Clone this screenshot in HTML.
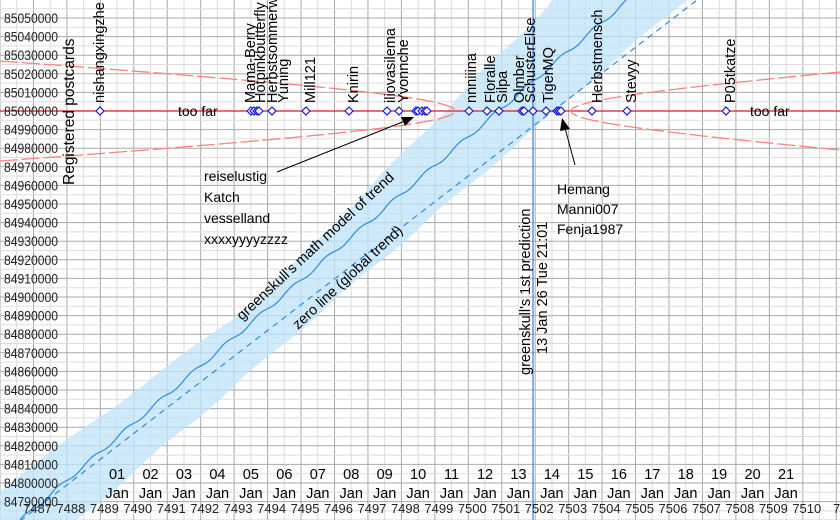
<!DOCTYPE html>
<html><head><meta charset="utf-8"><style>
body{margin:0;background:#fff}
svg{display:block;font-family:"Liberation Sans",sans-serif}
</style></head><body>
<svg id="s" width="840" height="520" viewBox="0 0 840 520" xmlns="http://www.w3.org/2000/svg">
<g id="grid"></g>
<path id="band" fill="#bfe3fa" opacity="0.75"/>
<path id="dash" fill="none" stroke="#2f8be0" stroke-width="1.2" stroke-dasharray="6,5"/>
<path id="sol" fill="none" stroke="#2f8be0" stroke-width="1.2"/>
<line x1="533" y1="0" x2="533" y2="520" stroke="#3a7fe0" stroke-width="1.2"/>
<line x1="0" y1="111" x2="840" y2="111" stroke="#cc2222" stroke-width="1.2"/>
<path id="hyp" fill="none" stroke="#ff8080" stroke-width="1.3" stroke-dasharray="18,4"/>
<g id="txt" font-size="13" fill="#222"></g>
<g id="pts" fill="#fff" stroke="#1515e0" stroke-width="1.2"></g>
<g font-size="14">
<text x="178" y="116">too far</text>
<text x="750" y="116">too far</text>
<text x="204" y="181">reiselustig</text>
<text x="204" y="202">Katch</text>
<text x="204" y="223">vesselland</text>
<text x="204" y="244">xxxxyyyyzzzz</text>
<text x="557" y="194">Hemang</text>
<text x="557" y="214">Manni007</text>
<text x="557" y="234">Fenja1987</text>
<text transform="translate(74,185) rotate(-90)" font-size="15.5">Registered postcards</text>
<text transform="translate(530,375) rotate(-90)" font-size="14.5">greenskull's 1st prediction</text>
<text transform="translate(547,354) rotate(-90)" font-size="14.5">13 Jan 26 Tue 21:01</text>
<text transform="translate(242,321) rotate(-43)" font-size="14.5">greenskull's math model of trend</text>
<text transform="translate(298,330) rotate(-43)" font-size="14.5">zero line (global trend)</text>
</g>
<line x1="277" y1="172" x2="405" y2="121" stroke="#000" stroke-width="1"/>
<polygon points="414,117 401,117 405,126" fill="#000"/>
<line x1="575" y1="165" x2="565" y2="128" stroke="#000" stroke-width="1"/>
<polygon points="562,118 560,131 570,129" fill="#000"/>
</svg>
<script>
var ns="http://www.w3.org/2000/svg";
function el(p,t,a,tx){var e=document.createElementNS(ns,t);for(var k in a)e.setAttribute(k,a[k]);if(tx!=null)e.textContent=tx;document.getElementById(p).appendChild(e);return e;}
var dx=33.45;
for(var k=0;k<=26;k++){
 var x=k*dx; el("grid","line",{x1:x,y1:0,x2:x,y2:520,stroke:"#aaa","stroke-width":1});
 el("grid","line",{x1:x+dx/2,y1:0,x2:x+dx/2,y2:520,stroke:"#ddd","stroke-width":1});
}
var yz=111,dy=18.6;
for(var j=-6;j<=22;j++){
 var y=yz+j*dy; el("grid","line",{x1:0,y1:y,x2:840,y2:y,stroke:"#aaa","stroke-width":1});
 el("grid","line",{x1:0,y1:y+dy/2,x2:840,y2:y+dy/2,stroke:"#ddd","stroke-width":1});
 if(j>=-5&&j<=21) el("txt","text",{x:4,y:y+5,"font-size":13.5,textLength:54,lengthAdjust:"spacingAndGlyphs"},String(85000000-j*10000));
}
for(var k=1;k<=25;k++){
 var v=7486+k; el("txt","text",{x:k*dx+4,y:513,"text-anchor":"middle","font-size":13},k==25?"75":String(v));
}
for(var n=1;n<=21;n++){
 var cx=dx*(n+2.5);
 el("txt","text",{x:cx,y:479,"text-anchor":"middle","font-size":14.5,fill:"#000"},(n<10?"0":"")+n);
 el("txt","text",{x:cx,y:498,"text-anchor":"middle","font-size":14.5,fill:"#000"},"Jan");
}
function ysol(x){return 465-(x-85)*0.856;}
var d="";
for(var x=20;x<=660;x+=2){var y=ysol(x)+2*Math.sin(x/dx*2*Math.PI);d+=(x>20?"L":"M")+x+","+y.toFixed(1);}
document.getElementById("sol").setAttribute("d",d);
document.getElementById("dash").setAttribute("d","M20,521L697,0");
var up="";
for(var y=530;y>=-10;y-=10){var xs=85+(465-y)/0.856;var uo=19+0.19*Math.abs(y-296);var w=2*Math.sin(y/15);
 up+=(up?"L":"M")+(xs-uo+w).toFixed(1)+","+y;}
var lw=[];for(var y=-10;y<=530;y+=10){var xs=85+(465-y)/0.856;lw.push("L"+(xs+57+2*Math.cos(y/13)).toFixed(1)+","+y);}
document.getElementById("band").setAttribute("d",up+lw.join("")+"Z");
var yc=111,L="",R1="";
for(var i=-30;i<=30;i++){var u=i/30*1.3;var x=455-455*(Math.cosh(u)-1)/(Math.cosh(1.3)-1);var y=yc+50*Math.sinh(u)/Math.sinh(1.3);L+=(i==-30?"M":"L")+x.toFixed(1)+","+y.toFixed(1);}
for(var i=-30;i<=30;i++){var u=i/30*1.3;var x=571+269*(Math.cosh(u)-1)/(Math.cosh(1.3)-1);var y=yc+39*Math.sinh(u)/Math.sinh(1.3);R1+=(i==-30?"M":"L")+x.toFixed(1)+","+y.toFixed(1);}
document.getElementById("hyp").setAttribute("d",L+R1);
var P=[100,251,254,257,259,272,306,349,387,399,416,418,422,425,427,469,487,499,522,524,533,546,557,559,561,592,627,726];
P.forEach(function(x){el("pts","polygon",{points:(x-4)+",111 "+x+",107 "+(x+4)+",111 "+x+",115"});});
var N=[[100,"nishangxingzhe"],[251,"Mama-Berry"],[261,"Hotpinkbutterfly"],[273,"Herbstsommerwind"],[284,"Yuning"],[311,"Mill121"],[354,"Knirin"],[391,"iliovasilema"],[404,"Yvonnche"],[472,"nnniiina"],[491,"Floralle"],[503,"Silpa"],[520,"Olmber"],[531,"SchusterElse"],[549,"TigerMQ"],[598,"Herbstmensch"],[632,"Stevyy"],[731,"P05tkatze"]];
N.forEach(function(n){el("txt","text",{transform:"translate("+(n[0]+4)+",103) rotate(-90)","font-size":14.5,fill:"#000"},n[1]);});
</script>
</body></html>
